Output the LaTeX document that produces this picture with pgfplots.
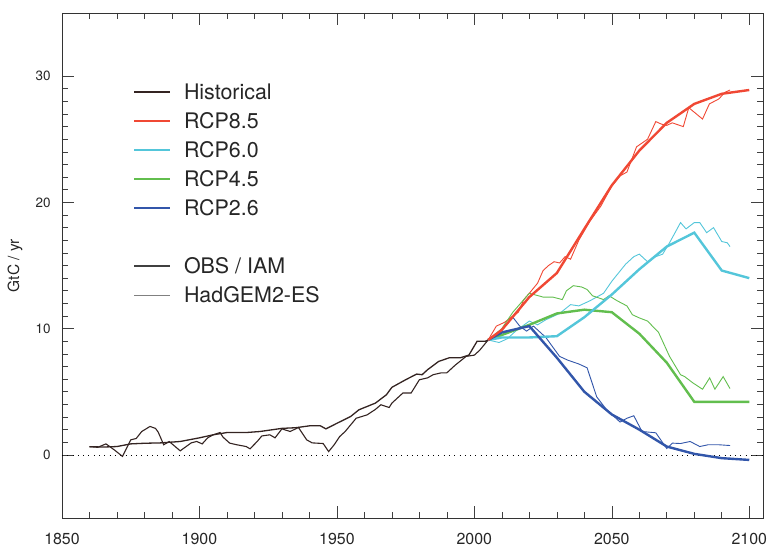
\documentclass[border=0pt]{standalone}
\usepackage{fontspec}
\setmainfont{TeX Gyre Heros}
\usepackage{pgfplots}
\pgfplotsset{compat=1.18}
\definecolor{histc}{RGB}{52,36,34}
\definecolor{c85}{RGB}{240,72,52}
\definecolor{c60}{RGB}{84,198,218}
\definecolor{c45}{RGB}{98,190,78}
\definecolor{c26}{RGB}{50,86,170}
\begin{document}
\begin{tikzpicture}
\useasboundingbox (-62bp,-30bp) rectangle (713bp,518bp);
\begin{axis}[
  at={(0,0)}, anchor=south west,
  scale only axis, width=701bp, height=505bp,
  xmin=1850, xmax=2105, ymin=-5, ymax=35,
  xtick={1850,1900,...,2100}, minor x tick num=4,
  ytick={0,10,20,30}, minor y tick num=9,
  tick align=inside, major tick length=12bp, minor tick length=6bp,
  tick style={line width=0.6bp, color=black!75},
  axis line style={line width=0.8bp, color=black!80},
  /pgf/number format/1000 sep={},
  /pgf/number format/assume math mode=true,
  ticklabel style={text=black!85},
  xticklabel style={font=\fontsize{16}{18}\selectfont, yshift=-12bp},
  yticklabel style={font=\fontsize{13.5}{16}\selectfont, xshift=-8bp},
  ylabel={GtC / yr},
  ylabel style={at={(axis description cs:-0.067,0.5)}, anchor=center, font=\fontsize{15.5}{17}\selectfont, text=black!85},
  legend style={draw=none, fill=none, inner sep=0pt, at={(axis description cs:0.1013,0.8574)}, anchor=north west,
     font=\fontsize{21.5}{24}\selectfont, text=black!85, row sep=15bp, column sep=13bp,
     nodes={inner sep=0pt, text height=14bp, text depth=0bp}},
  legend cell align=left,
  legend image code/.code={\draw[#1] (0bp,0bp) -- (36bp,0bp);},
]
\addlegendimage{histc, line width=1.5bp}\addlegendentry{Historical}
\addlegendimage{c85, line width=1.8bp}\addlegendentry{RCP8.5}
\addlegendimage{c60, line width=1.8bp}\addlegendentry{RCP6.0}
\addlegendimage{c45, line width=1.8bp}\addlegendentry{RCP4.5}
\addlegendimage{c26, line width=1.8bp}\addlegendentry{RCP2.6}
\addlegendimage{empty legend}\addlegendentry{}
\addlegendimage{black!75, line width=1.6bp}\addlegendentry{OBS / IAM}
\addlegendimage{black!50, line width=1.2bp}\addlegendentry{HadGEM2-ES}

% zero line
\addplot[black, line width=0.7bp, dash pattern=on 0.8bp off 4.5bp, forget plot] coordinates {(1850,0) (2105,0)};

% Historical OBS (smooth)
\addplot[histc, line width=1.3bp, forget plot] coordinates {
(1860,0.65) (1865,0.62) (1870,0.66) (1875,0.87) (1880,0.92) (1886,0.95) (1893,1.06)
(1900,1.35) (1905,1.59) (1910,1.77) (1917,1.77) (1922,1.85) (1930,2.1) (1935,2.15)
(1940,2.3) (1944,2.3) (1946,2.06) (1950,2.5) (1955,3.04) (1958,3.57) (1964,4.1)
(1968,4.76) (1970,5.35) (1975,5.95) (1979,6.4) (1981,6.35) (1983,6.75) (1987,7.4)
(1991,7.7) (1995,7.7) (1998,7.9) (2001,9.0) (2004,9.0) (2005,9.1)};

% Historical HadGEM2-ES (noisy)
\addplot[histc, line width=1.1bp, forget plot] coordinates {
(1860,0.65) (1863,0.6) (1866,0.87) (1869,0.4) (1872,-0.12) (1875,1.19) (1877,1.3)
(1879,1.85) (1882,2.25) (1884,2.1) (1885,1.8) (1887,0.8) (1889,1.06) (1893,0.32)
(1897,0.95) (1899,1.06) (1901,0.87) (1903,1.35) (1905,1.59) (1907.5,1.77) (1908.6,1.4)
(1911,0.93) (1913.6,0.8) (1917,0.66) (1918.4,0.48) (1921,1.06) (1922.7,1.5) (1925.6,1.59)
(1927.5,1.35) (1930,2.06) (1933,1.85) (1936,2.17) (1939,1.19) (1941,0.95) (1945,0.9)
(1947,0.26) (1949,0.8) (1951,1.45) (1953,1.85) (1957,2.9) (1961,3.17) (1964,3.6)
(1966,3.97) (1969,3.75) (1970,4.1) (1974,4.9) (1977,4.9) (1980,5.95) (1983,6.1)
(1985,6.35) (1988,6.5) (1990,6.5) (1993,7.1) (1997,7.8) (2000,7.9) (2002,8.3) (2005,9.1)};

% HadGEM2-ES thin lines
\addplot[c85, line width=0.9bp, forget plot] coordinates {
(2005,9.1) (2008,10.2) (2011,10.5) (2014,11.0) (2016,11.3) (2018,12.3) (2020,12.8)
(2023,13.6) (2025,14.6) (2027,15.0) (2029,15.3) (2031,15.2) (2033,15.7) (2035,15.5)
(2038,17.0) (2042,18.5) (2046,19.7) (2050,21.3) (2053,22.1) (2055.5,22.4) (2059,24.4)
(2063,25.0) (2066,26.4) (2068,26.2) (2070,26.1) (2072,26.3) (2076,26.0) (2078,27.5)
(2083,26.6) (2085.5,27.8) (2089,28.2) (2091,28.7) (2093,28.9)};
\addplot[c60, line width=0.9bp, forget plot] coordinates {
(2005,9.1) (2009,8.9) (2012,9.2) (2015,9.8) (2020,10.6) (2023,10.3) (2026,10.7)
(2031,11.2) (2035,11.9) (2038,11.8) (2042,12.2) (2047,12.8) (2050,13.75) (2055,15.1)
(2058,15.7) (2060,15.9) (2063,15.3) (2066,15.7) (2068.5,15.9) (2071,16.8) (2075,18.4)
(2077,17.9) (2080,18.4) (2082,18.4) (2084.5,17.6) (2087,18.0) (2090,16.9) (2092,16.8) (2093,16.5)};
\addplot[c45, line width=0.9bp, forget plot] coordinates {
(2005,9.1) (2010,10.0) (2014,11.3) (2018,12.3) (2020,12.8) (2025,12.5) (2028.5,12.5)
(2032,12.3) (2033.5,13.0) (2036,13.4) (2039,13.3) (2041,13.1) (2043,12.6) (2047,12.3)
(2049,12.6) (2052,12.2) (2055.5,11.8) (2057.5,11.1) (2060,10.85) (2063,10.6) (2067,9.7)
(2071,7.8) (2075,6.35) (2076.5,6.2) (2079.5,5.7) (2083,5.2) (2085.6,6.1) (2087.5,5.2)
(2090.5,6.2) (2093,5.25)};
\addplot[c26, line width=0.9bp, forget plot] coordinates {
(2005,9.1) (2010,9.9) (2014,10.9) (2016.5,10.2) (2019,9.8) (2021.5,10.2) (2026,9.3)
(2031,7.8) (2034,7.5) (2038,7.2) (2041,6.9) (2044.5,4.6) (2048,3.6) (2052,2.8) (2053,2.6)
(2055.5,2.9) (2058,3.1) (2061,1.85) (2066,1.75) (2070,0.5) (2072,0.93) (2075,0.9)
(2078.5,1.06) (2082,0.66) (2085,0.8) (2089,0.8) (2093,0.74)};

% IAM thick lines
\addplot[c45, line width=2.4bp, forget plot] coordinates {
(2005,9.1) (2010,9.5) (2020,10.3) (2030,11.2) (2040,11.5) (2050,11.3) (2060,9.6)
(2070,7.3) (2080,4.2) (2090,4.2) (2100,4.2)};
\addplot[c60, line width=2.4bp, forget plot] coordinates {
(2005,9.1) (2010,9.3) (2020,9.3) (2030,9.4) (2040,10.9) (2050,12.7) (2060,14.7)
(2070,16.5) (2080,17.6) (2090,14.6) (2100,14.0)};
\addplot[c26, line width=2.4bp, forget plot] coordinates {
(2005,9.1) (2010,9.7) (2020,10.2) (2030,7.7) (2040,5.0) (2050,3.2) (2060,2.0)
(2070,0.66) (2080,0.08) (2090,-0.26) (2100,-0.4)};
\addplot[c85, line width=2.4bp, forget plot] coordinates {
(2005,9.1) (2010,9.9) (2020,12.5) (2030,14.4) (2040,17.9) (2050,21.35) (2060,24.1)
(2070,26.3) (2080,27.8) (2090,28.6) (2100,28.9)};
\end{axis}
\end{tikzpicture}
\end{document}
